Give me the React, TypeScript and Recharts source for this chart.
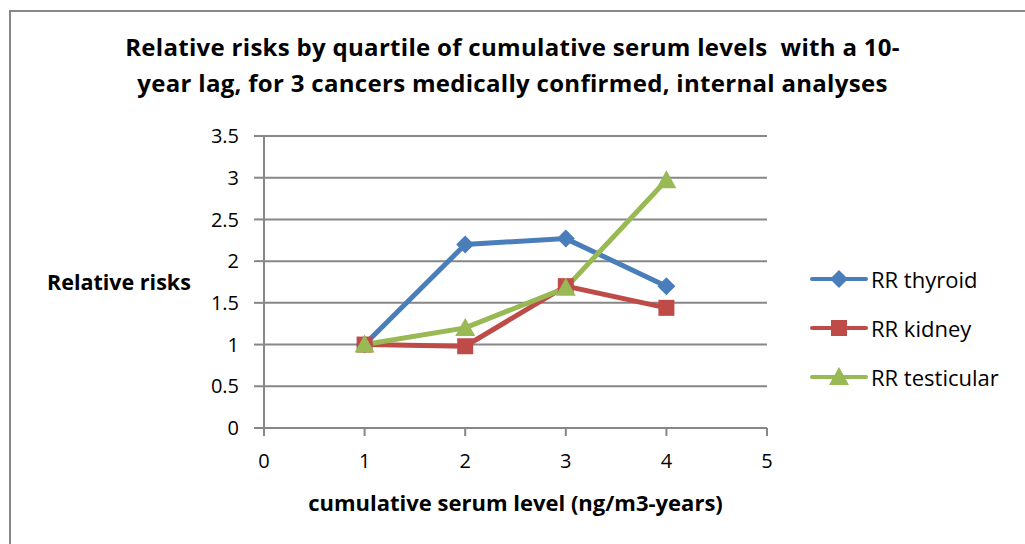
import { LineChart, Line, XAxis, YAxis, CartesianGrid } from "recharts";

const levels = [1, 2, 3, 4];
const thyroid = [1.0, 2.2, 2.27, 1.7];
const kidney = [1.0, 0.98, 1.7, 1.44];
const testicular = [1.0, 1.2, 1.68, 2.97];
const xTicks = [0, 1, 2, 3, 4, 5];
const yTicks = [0, 0.5, 1, 1.5, 2, 2.5, 3, 3.5];

const data = levels.map((x, i) => ({
	x,
	thyroid: thyroid[i],
	kidney: kidney[i],
	testicular: testicular[i],
}));

const FONT = "'Open Sans', sans-serif";
const GRID = "#878787";

const Diamond = ({ cx, cy, fill }: any) => (
	<path d={`M${cx},${cy - 9} L${cx + 9},${cy} L${cx},${cy + 9} L${cx - 9},${cy} Z`} fill={fill} />
);
const Square = ({ cx, cy, fill }: any) => (
	<rect x={cx - 8} y={cy - 8} width={16} height={16} fill={fill} />
);
const Triangle = ({ cx, cy, fill }: any) => (
	<path d={`M${cx},${cy - 10} L${cx + 10},${cy + 8} L${cx - 10},${cy + 8} Z`} fill={fill} />
);

const series = [
	{ key: "thyroid", name: "RR thyroid", color: "#4A7EBB", Shape: Diamond },
	{ key: "kidney", name: "RR kidney", color: "#BE4B48", Shape: Square },
	{ key: "testicular", name: "RR testicular", color: "#98B954", Shape: Triangle },
];

export default function App() {
	return (
		<div style={{ position: "fixed", left: 0, top: 0, width: 1025, height: 544, overflow: "hidden", background: "#fff" }}>
			<div
				style={{
					position: "absolute",
					left: 9,
					top: 10,
					width: 1100,
					height: 600,
					borderTop: `2px solid ${GRID}`,
					borderLeft: `2px solid ${GRID}`,
				}}
			/>
			<div
				style={{
					position: "absolute",
					left: 0,
					width: 1025,
					top: 29,
					textAlign: "center",
					fontFamily: FONT,
					fontWeight: "bold",
					fontSize: 24,
					letterSpacing: 0.3,
					lineHeight: "36px",
				}}
			>
				Relative risks by quartile of cumulative serum levels&nbsp; with a 10-
				<br />
				year lag, for 3 cancers medically confirmed, internal analyses
			</div>
			<div
				style={{
					position: "absolute",
					left: 47,
					top: 267,
					fontFamily: FONT,
					fontWeight: "bold",
					fontSize: 21.5,
					lineHeight: "30px",
				}}
			>
				Relative risks
			</div>
			<div
				style={{
					position: "absolute",
					left: 264,
					width: 503,
					top: 487,
					textAlign: "center",
					fontFamily: FONT,
					fontWeight: "bold",
					fontSize: 22,
					lineHeight: "30px",
				}}
			>
				cumulative serum level (ng/m3-years)
			</div>
			<div style={{ position: "absolute", left: 808, top: 254, fontFamily: FONT, fontSize: 22 }}>
				{series.map((s) => (
					<div key={s.key} style={{ display: "flex", alignItems: "center", height: 49 }}>
						<svg width={62} height={24}>
							<line x1={4} y1={12} x2={58} y2={12} stroke={s.color} strokeWidth={4} strokeLinecap="round" />
							<s.Shape cx={31} cy={12} fill={s.color} />
						</svg>
						<span style={{ marginLeft: 1 }}>{s.name}</span>
					</div>
				))}
			</div>
			<LineChart
				width={1025}
				height={544}
				data={data}
				style={{ position: "absolute", left: 0, top: 0 }}
				margin={{ top: 136, right: 258, left: 204, bottom: 76 }}
			>
				<CartesianGrid horizontal vertical={false} stroke={GRID} strokeWidth={2} />
				<XAxis
					type="number"
					dataKey="x"
					domain={[0, 5]}
					ticks={xTicks}
					interval={0}
					height={40}
					stroke={GRID}
					strokeWidth={2}
					tickSize={8}
					tickMargin={18}
					tick={{ fill: "#000", fontSize: 20, fontFamily: FONT }}
				/>
				<YAxis
					type="number"
					domain={[0, 3.5]}
					ticks={yTicks}
					interval={0}
					width={60}
					stroke={GRID}
					strokeWidth={2}
					tickSize={10}
					tickMargin={15}
					tick={{ fill: "#000", fontSize: 20, fontFamily: FONT }}
				/>
				{series.map((s) => (
					<Line
						key={s.key}
						dataKey={s.key}
						name={s.name}
						stroke={s.color}
						strokeWidth={5}
						dot={<s.Shape fill={s.color} />}
						activeDot={false}
						isAnimationActive={false}
					/>
				))}
			</LineChart>
		</div>
	);
}
